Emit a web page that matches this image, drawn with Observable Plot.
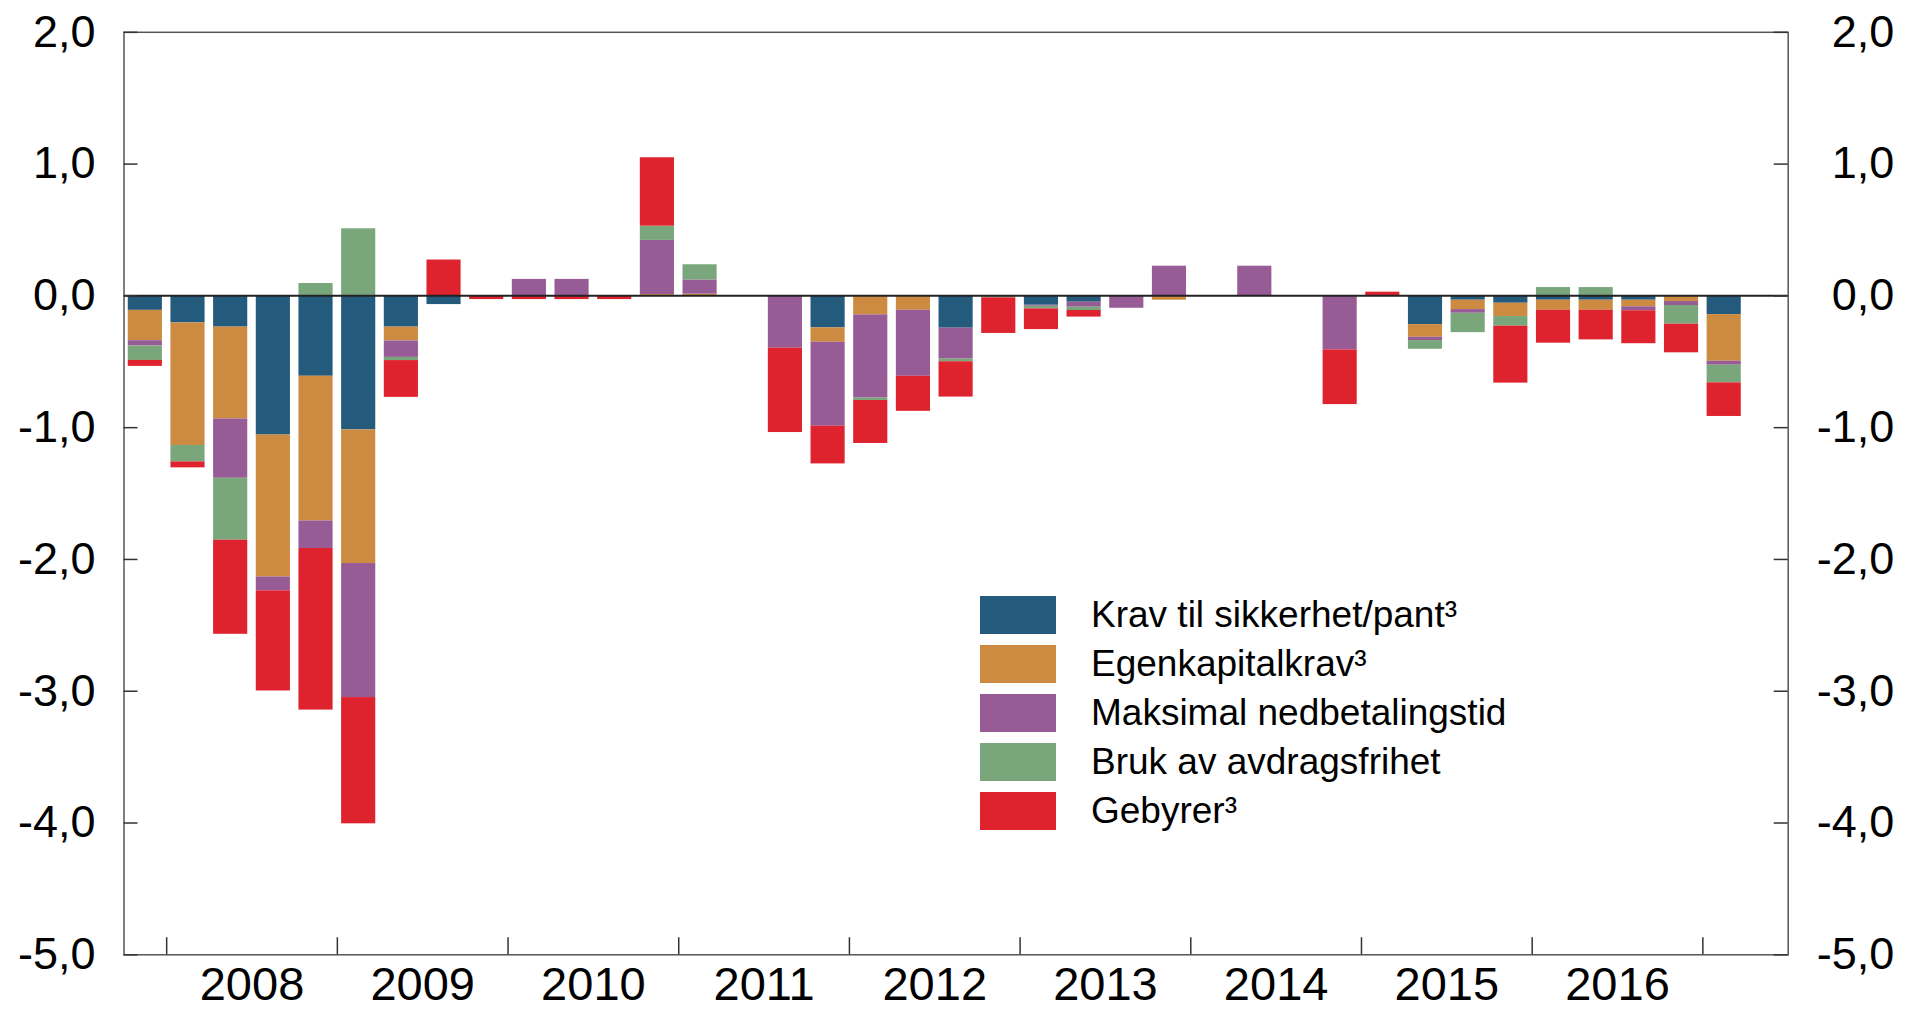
<!DOCTYPE html>
<html>
<head>
<meta charset="utf-8">
<script src="https://cdn.jsdelivr.net/npm/d3@7"></script>
<script src="https://cdn.jsdelivr.net/npm/@observablehq/plot@0.6"></script>
<style>
  html, body { margin: 0; padding: 0; background: #fff; }
  #wrap { position: relative; width: 1916px; height: 1009px; font-family: "Liberation Sans", Arial, sans-serif; }
  #legend { position: absolute; left: 980px; top: 590.5px; }
  .row { display: flex; align-items: center; height: 49px; }
  .sw { width: 76px; height: 38px; margin-right: 35px; }
  .lab { font-size: 37px; color: #000; white-space: nowrap; }
</style>
</head>
<body>
<div id="wrap"></div>
<script>
// Quarters 2007Q4 .. 2017Q2
const quarters = ["2007K4",
  "2008K1","2008K2","2008K3","2008K4",
  "2009K1","2009K2","2009K3","2009K4",
  "2010K1","2010K2","2010K3","2010K4",
  "2011K1","2011K2","2011K3","2011K4",
  "2012K1","2012K2","2012K3","2012K4",
  "2013K1","2013K2","2013K3","2013K4",
  "2014K1","2014K2","2014K3","2014K4",
  "2015K1","2015K2","2015K3","2015K4",
  "2016K1","2016K2","2016K3","2016K4",
  "2017K1","2017K2"];

const seriesNames = ["Krav til sikkerhet/pant³", "Egenkapitalkrav³", "Maksimal nedbetalingstid", "Bruk av avdragsfrihet", "Gebyrer³"];
const seriesColors = ["#245a7b", "#cd8b42", "#975b95", "#7aa67c", "#de222e"];

const krav = [-0.11,
  -0.205,-0.237,-1.056,-0.61,
  -1.017,-0.237,-0.066,0,
  0,0,0,0,
  0,0,0,-0.243,
  0,0,-0.245,0,
  -0.071,-0.048,0,0,
  0,0,0,0,
  0,-0.218,-0.033,-0.056,
  -0.033,-0.033,-0.033,0,
  -0.142,0];
const egenkapital = [-0.23,
  -0.93,-0.697,-1.077,-1.098,
  -1.014,-0.105,0,0,
  0,0,0,0.01,
  0.013,0,0,-0.109,
  -0.144,-0.109,0,0,
  0,0,0,-0.033,
  0,0,0,0,
  0,-0.096,-0.071,-0.101,
  -0.076,-0.076,-0.05,-0.043,
  -0.354,0];
const nedbetaling = [-0.04,
  0,-0.45,-0.105,-0.209,
  -1.017,-0.125,0,0,
  0.125,0.125,0,0.411,
  0.108,0,-0.397,-0.637,
  -0.632,-0.501,-0.235,0,
  -0.008,-0.038,-0.094,0.225,
  0,0.225,0,-0.41,
  0,-0.025,-0.028,0,
  0,0,-0.03,-0.03,
  -0.03,0];
const avdragsfrihet = [-0.11,
  -0.125,-0.47,0,0.094,
  0.509,-0.024,0,0,
  0,0,0,0.108,
  0.115,0,0,0,
  -0.018,0,-0.02,-0.015,
  -0.02,-0.025,0,0,
  0,0,0,0,
  0,-0.066,-0.147,-0.073,
  0.063,0.063,0,-0.142,
  -0.134,0];
const gebyrer = [-0.045,
  -0.045,-0.714,-0.76,-1.226,
  -0.958,-0.279,0.272,-0.028,
  -0.028,-0.028,-0.028,0.519,
  0,0,-0.64,-0.286,
  -0.326,-0.266,-0.268,-0.27,
  -0.157,-0.05,0,0,
  0,0,0,-0.415,
  0.028,0,0,-0.432,
  -0.25,-0.225,-0.25,-0.217,
  -0.255,0];

const years = ["2008","2009","2010","2011","2012","2013","2014","2015","2016"];
const yearTickYears = ["2008","2009","2010","2011","2012","2013","2014","2015","2016","2017"];
const yTicks = [2, 1, 0, -1, -2, -3, -4, -5];

// build long table
const seriesValues = [krav, egenkapital, nedbetaling, avdragsfrihet, gebyrer];
const data = [];
quarters.forEach((q, i) => {
  seriesNames.forEach((s, j) => {
    data.push({q, s, v: seriesValues[j][i]});
  });
});

const W = 1916, H = 1009;
const mL = 123.5, mR = 128.3, mT = 31.8, mB = 54.7;
const plotW = W - mL - mR, plotH = H - mT - mB;
const step = plotW / quarters.length;
const fmt = d => d.toFixed(1).replace(".", ",");
const font = "Liberation Sans, Arial, sans-serif";

const chart = Plot.plot({
  width: W, height: H,
  marginLeft: mL, marginRight: mR, marginTop: mT, marginBottom: mB,
  style: {fontFamily: font, background: "white", color: "#000"},
  x: {type: "band", domain: quarters, paddingInner: 0.2, paddingOuter: 0.1, round: false, axis: null},
  y: {domain: [-5, 2], axis: null},
  color: {domain: seriesNames, range: seriesColors},
  marks: [
    Plot.barY(data, {x: "q", y: "v", fill: "s", order: seriesNames}),
    Plot.ruleY([0], {stroke: "#222", strokeWidth: 2}),
    Plot.frame({stroke: "#555", strokeWidth: 1.5}),
    // left & right y tick marks (inward)
    Plot.tickY(yTicks, {y: d => d, insetRight: plotW - 14, stroke: "#333", strokeWidth: 1.5}),
    Plot.tickY(yTicks, {y: d => d, insetLeft: plotW - 14, stroke: "#333", strokeWidth: 1.5}),
    // y labels
    Plot.text(yTicks, {y: d => d, text: fmt, frameAnchor: "left", textAnchor: "end", dx: -28.5, fontSize: 45, fill: "#000"}),
    Plot.text(yTicks, {y: d => d, text: fmt, frameAnchor: "right", textAnchor: "end", dx: 106, fontSize: 45, fill: "#000"}),
    // year boundary ticks at bottom (inward)
    Plot.tickX(yearTickYears, {x: d => d + "K1", dx: -step / 2, insetTop: plotH - 17, stroke: "#333", strokeWidth: 1.5}),
    // year labels centered under each year
    Plot.text(years, {x: d => d + "K3", dx: -step / 2, frameAnchor: "bottom", dy: 45, text: d => d, fontSize: 47, fill: "#000"})
  ]
});

const wrap = document.getElementById("wrap");
wrap.appendChild(chart);

// legend
const legend = document.createElement("div");
legend.id = "legend";
seriesNames.forEach((s, j) => {
  const row = document.createElement("div");
  row.className = "row";
  const sw = document.createElement("div");
  sw.className = "sw";
  sw.style.background = seriesColors[j];
  const lab = document.createElement("div");
  lab.className = "lab";
  lab.textContent = s;
  row.appendChild(sw);
  row.appendChild(lab);
  legend.appendChild(row);
});
wrap.appendChild(legend);
</script>
</body>
</html>
